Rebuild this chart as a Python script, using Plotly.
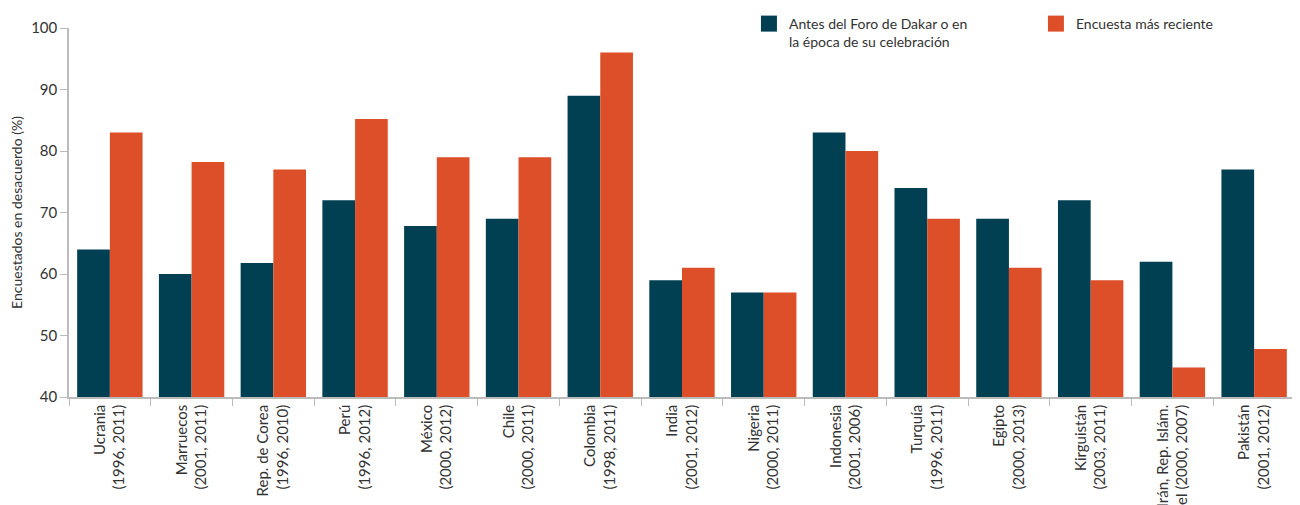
import plotly.graph_objects as go

paises = ["Ucrania<br>(1996, 2011)", "Marruecos<br>(2001, 2011)", "Rep. de Corea<br>(1996, 2010)",
          "Perú<br>(1996, 2012)", "México<br>(2000, 2012)", "Chile<br>(2000, 2011)",
          "Colombia<br>(1998, 2011)", "India<br>(2001, 2012)", "Nigeria<br>(2000, 2011)",
          "Indonesia<br>(2001, 2006)", "Turquía<br>(1996, 2011)", "Egipto<br>(2000, 2013)",
          "Kirguistán<br>(2003, 2011)", "Irán, Rep. Islám.<br>del (2000, 2007)", "Pakistán<br>(2001, 2012)"]
antes = [64, 60, 61.8, 72, 67.8, 69, 89, 59, 57, 83, 74, 69, 72, 62, 77]
reciente = [83, 78.2, 77, 85.2, 79, 79, 96, 61, 57, 80, 69, 61, 59, 44.8, 47.8]
series = ["Antes del Foro de Dakar o en<br>la época de su celebración", "Encuesta más reciente"]
colores = ["#013f53", "#dd4f29"]

font = "Lato, 'Open Sans', sans-serif"

fig = go.Figure()
for nombre, valores, color in zip(series, [antes, reciente], colores):
    fig.add_trace(go.Bar(x=paises, y=valores, name=nombre, legendgroup=nombre, showlegend=False,
                         marker=dict(color=color, line=dict(width=0))))
# legend entries with bigger square symbols
for nombre, color in zip(series, colores):
    fig.add_trace(go.Scatter(x=[None], y=[None], mode="markers", name=nombre, legendgroup=nombre,
                             marker=dict(symbol="square", size=17, color=color)))

fig.update_layout(
    width=1300, height=505,
    margin=dict(l=61, r=13, t=20, b=116, autoexpand=False),
    plot_bgcolor="white", paper_bgcolor="white",
    barmode="group", bargap=0.2, bargroupgap=0,
    font=dict(family=font, size=14, color="#333"),
    legend=dict(orientation="h", x=0.5546, xanchor="left", y=1, yref="container", yanchor="top",
                entrywidth=242, entrywidthmode="pixels", font=dict(size=14, color="#333"),
                traceorder="normal", valign="top"),
)
fig.update_xaxes(showline=True, linecolor="#bbb", linewidth=1.5, ticks="outside", tickson="boundaries",
                 ticklen=7, tickcolor="#bbb", tickangle=-90, tickfont=dict(size=15, color="#333"),
                 automargin=False)
fig.update_yaxes(range=[40, 100], dtick=10, showline=True, linecolor="#bbb", linewidth=1.5,
                 ticks="outside", ticklen=7, tickcolor="#bbb", showgrid=False, zeroline=False,
                 tickfont=dict(size=15, color="#333"), automargin=False,
                 title=dict(text="Encuestados en desacuerdo (%)", font=dict(size=14, color="#333"), standoff=12))

fig.write_html("out.html")
